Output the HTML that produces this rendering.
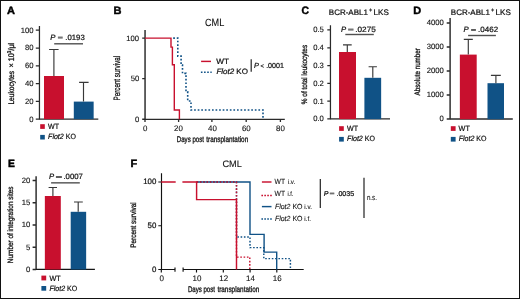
<!DOCTYPE html>
<html><head><meta charset="utf-8"><style>
html,body{margin:0;padding:0;background:#fff;}
body{width:520px;height:299px;overflow:hidden;}
svg{display:block;will-change:transform;text-rendering:geometricPrecision;font-family:"Liberation Sans",sans-serif;}
text{fill:#111;stroke:#111;stroke-width:0.22px;}
.cd{stroke-width:0.3px;}
.th{stroke-width:0.1px;}
.tk{stroke-width:0.12px;}
.lt{stroke-width:0.45px;fill:#000;stroke:#000;}
</style></head><body>
<svg width="520" height="299" viewBox="0 0 520 299" xmlns="http://www.w3.org/2000/svg">
<rect x="0.5" y="0.5" width="519" height="298" fill="#fff" stroke="#111" stroke-width="1"/>
<text x="6.9" y="14.3" font-size="10.6" class="lt" textLength="7.96" lengthAdjust="spacingAndGlyphs" font-weight="bold">A</text>
<path d="M39.45,26.0V119.8M35.8,30.2H39.45M35.8,48.0H39.45M35.8,65.8H39.45M35.8,83.6H39.45M35.8,101.4H39.45M35.8,119.2H39.45" stroke="#2a2a2a" stroke-width="1.25" fill="none"/>
<path d="M39.45,119.2H98.3" stroke="#2a2a2a" stroke-width="1.3" fill="none"/>
<text x="33.6" y="32.6" font-size="7.7" class="tk" text-anchor="end">100</text>
<text x="33.6" y="50.4" font-size="7.7" class="tk" text-anchor="end">80</text>
<text x="33.6" y="68.2" font-size="7.7" class="tk" text-anchor="end">60</text>
<text x="33.6" y="86.0" font-size="7.7" class="tk" text-anchor="end">40</text>
<text x="33.6" y="103.80000000000001" font-size="7.7" class="tk" text-anchor="end">20</text>
<text x="33.6" y="121.60000000000001" font-size="7.7" class="tk" text-anchor="end">0</text>
<text transform="translate(14.1,104.6) rotate(-90)" font-size="8.2" class="cd" textLength="33.6" lengthAdjust="spacingAndGlyphs">Leukocytes</text>
<text transform="translate(14.1,67.6) rotate(-90)" font-size="8.2" class="cd" textLength="24.8" lengthAdjust="spacingAndGlyphs">× 10<tspan font-size="5.4" dy="-2.8">3</tspan><tspan dy="2.8">/μl</tspan></text>
<rect x="44" y="76" width="20" height="43.1" fill="#c8102e"/>
<rect x="73.8" y="101.6" width="19.85" height="17.5" fill="#105286"/>
<path d="M53.9,76V49.5M49.1,49.5H58.6M83.5,101.6V82.4M79.1,82.4H88.6" stroke="#383838" stroke-width="1.15" fill="none"/>
<path d="M54.2,43.8H83" stroke="#505050" stroke-width="1.4" fill="none"/>
<text x="50.369" y="39.9" font-size="7.7"><tspan font-style="italic">P</tspan></text>
<rect x="57.9" y="36.70" width="4.80" height="0.73" fill="#222"/>
<rect x="57.9" y="37.67" width="4.80" height="0.73" fill="#222"/>
<text x="65.307" y="39.9" font-size="7.7" textLength="19.501" lengthAdjust="spacingAndGlyphs">.0193</text>
<rect x="40.2" y="124.2" width="4.6" height="4.7" fill="#c8102e"/>
<rect x="40.2" y="134.9" width="4.6" height="4.6" fill="#105286"/>
<text x="48.1" y="129.1" font-size="7.6" textLength="11.0" lengthAdjust="spacingAndGlyphs">WT</text>
<text x="48.1" y="139.3" font-size="7.6" textLength="27.8" lengthAdjust="spacingAndGlyphs"><tspan font-style="italic">Flot2</tspan> KO</text>
<text x="113.4" y="14.4" font-size="10.6" class="lt" textLength="7.96" lengthAdjust="spacingAndGlyphs" font-weight="bold">B</text>
<path d="M145.05,30.1V119.8M142.2,38.1H145.05M142.2,78.6H145.05M142.2,119.2H145.05" stroke="#2a2a2a" stroke-width="1.45" fill="none"/>
<path d="M145.05,119.3H284.8M145.0,119.3V121.9M178.6,119.3V121.9M211.9,119.3V121.9M246.2,119.3V121.9M280.4,119.3V121.9" stroke="#2a2a2a" stroke-width="1.3" fill="none"/>
<text x="139.1" y="40.5" font-size="7.7" class="tk" text-anchor="end">100</text>
<text x="139.4" y="81.0" font-size="7.7" class="tk" text-anchor="end">50</text>
<text x="139.4" y="121.5" font-size="7.7" class="tk" text-anchor="end">0</text>
<text x="145.1" y="130.8" font-size="7.9" class="tk" text-anchor="middle">0</text>
<text x="178.4" y="130.8" font-size="7.9" class="tk" text-anchor="middle">20</text>
<text x="212.5" y="130.8" font-size="7.9" class="tk" text-anchor="middle">40</text>
<text x="246.3" y="130.8" font-size="7.9" class="tk" text-anchor="middle">60</text>
<text x="280.5" y="130.8" font-size="7.9" class="tk" text-anchor="middle">80</text>
<text x="176.8" y="141.9" font-size="8.2" class="cd" textLength="27.1" lengthAdjust="spacingAndGlyphs">Days post</text>
<text x="206.3" y="141.9" font-size="8.2" class="cd" textLength="41.9" lengthAdjust="spacingAndGlyphs">transplantation</text>
<text transform="translate(119.9,78.2) rotate(-90)" font-size="9.2" text-anchor="middle" class="cd" textLength="44.6" lengthAdjust="spacingAndGlyphs">Percent survival</text>
<text x="205.0" y="25.75" font-size="10.4" class="th" textLength="19.3" lengthAdjust="spacingAndGlyphs">CML</text>
<path d="M173.2,38.1H177.8V56.1H181.1V65.1H182.5V73.4H186V91.8H187.7V101H191V110H263V119.2" stroke="#105286" stroke-width="1.6" fill="none" stroke-dasharray="1.7 1.87"/>
<path d="M145,38.1H171V47.1H172.4V64.7H174.3V110H179.4V119.2" stroke="#c8102e" stroke-width="1.4" fill="none"/>
<path d="M201.1,61.4H211" stroke="#c8102e" stroke-width="1.45" fill="none"/>
<path d="M200.9,72.2H211.7" stroke="#105286" stroke-width="1.6" fill="none" stroke-dasharray="1.6 1.55"/>
<text x="216.3" y="63.7" font-size="7.8" textLength="12.7" lengthAdjust="spacingAndGlyphs">WT</text>
<text x="216.4" y="74.0" font-size="7.8" textLength="31.5" lengthAdjust="spacingAndGlyphs"><tspan font-style="italic">Flot2</tspan> KO</text>
<path d="M251.2,59.2V71.8" stroke="#222" stroke-width="1.2" fill="none"/>
<text x="253.981" y="67.9" font-size="7.3"><tspan font-style="italic">P</tspan></text>
<text x="260.53499999999997" y="67.9" font-size="6.205" textLength="3.4300000000000455" lengthAdjust="spacingAndGlyphs">&lt;</text>
<text x="266.14300000000003" y="67.9" font-size="7.3" textLength="17.749000000000013" lengthAdjust="spacingAndGlyphs">.0001</text>
<text x="301.6" y="14.3" font-size="10.8" class="lt" textLength="7.5" lengthAdjust="spacingAndGlyphs" font-weight="bold">C</text>
<text x="328.8" y="14.8" font-size="8.0">BCR-ABL1</text>
<text x="368.9" y="11.5" font-size="6.0" textLength="3.3" lengthAdjust="spacingAndGlyphs">+</text>
<text x="373.6" y="14.8" font-size="8.1">LKS</text>
<path d="M330.45,25.3V119.6M327.3,29.95H330.45M327.3,47.75H330.45M327.3,65.55H330.45M327.3,83.35H330.45M327.3,101.15H330.45M327.3,118.95H330.45" stroke="#2a2a2a" stroke-width="1.25" fill="none"/>
<path d="M330.45,118.95H390" stroke="#2a2a2a" stroke-width="1.3" fill="none"/>
<text x="323.9" y="32.35" font-size="7.7" class="tk" text-anchor="end">0.5</text>
<text x="323.9" y="50.15" font-size="7.7" class="tk" text-anchor="end">0.4</text>
<text x="323.9" y="67.95" font-size="7.7" class="tk" text-anchor="end">0.3</text>
<text x="323.9" y="85.75" font-size="7.7" class="tk" text-anchor="end">0.2</text>
<text x="323.9" y="103.55000000000001" font-size="7.7" class="tk" text-anchor="end">0.1</text>
<text x="323.9" y="121.35000000000001" font-size="7.7" class="tk" text-anchor="end">0.0</text>
<text transform="translate(307.4,74.5) rotate(-90)" font-size="7.9" text-anchor="middle" class="cd" textLength="59.4" lengthAdjust="spacingAndGlyphs">% of total leukocytes</text>
<rect x="339.0" y="52" width="17.0" height="67.1" fill="#c8102e"/>
<rect x="364.4" y="77.8" width="16.75" height="41.3" fill="#105286"/>
<path d="M347.3,52V44.8M343.0,44.8H351.7M372.8,77.8V66.7M368.6,66.7H376.9" stroke="#383838" stroke-width="1.15" fill="none"/>
<path d="M345.3,34.5H373.8" stroke="#505050" stroke-width="1.4" fill="none"/>
<text x="340.969" y="31.9" font-size="7.7"><tspan font-style="italic">P</tspan></text>
<rect x="348.1" y="28.70" width="5.40" height="0.73" fill="#222"/>
<rect x="348.1" y="29.67" width="5.40" height="0.73" fill="#222"/>
<text x="355.307" y="31.9" font-size="7.7" textLength="20.501" lengthAdjust="spacingAndGlyphs">.0275</text>
<rect x="339.1" y="126.2" width="4.7" height="4.7" fill="#c8102e"/>
<rect x="339.1" y="136.9" width="4.7" height="4.7" fill="#105286"/>
<text x="347.1" y="131.0" font-size="7.6" textLength="11.0" lengthAdjust="spacingAndGlyphs">WT</text>
<text x="347.1" y="141.4" font-size="7.6" textLength="27.9" lengthAdjust="spacingAndGlyphs"><tspan font-style="italic">Flot2</tspan> KO</text>
<text x="413.3" y="14.35" font-size="10.6" class="lt" textLength="7.96" lengthAdjust="spacingAndGlyphs" font-weight="bold">D</text>
<text x="450.8" y="14.8" font-size="8.0">BCR-ABL1</text>
<text x="490.9" y="11.5" font-size="6.0" textLength="3.3" lengthAdjust="spacingAndGlyphs">+</text>
<text x="495.6" y="14.8" font-size="8.1">LKS</text>
<path d="M450.1,18V119.6M446.7,23.0H450.1M446.7,47.0H450.1M446.7,71.0H450.1M446.7,95.0H450.1M446.7,119.0H450.1" stroke="#2a2a2a" stroke-width="1.45" fill="none"/>
<path d="M450.1,119.0H512.8" stroke="#2a2a2a" stroke-width="1.3" fill="none"/>
<text x="443.8" y="25.4" font-size="7.7" class="tk" text-anchor="end">4000</text>
<text x="443.8" y="49.4" font-size="7.7" class="tk" text-anchor="end">3000</text>
<text x="443.8" y="73.4" font-size="7.7" class="tk" text-anchor="end">2000</text>
<text x="443.8" y="97.4" font-size="7.7" class="tk" text-anchor="end">1000</text>
<text x="443.8" y="121.4" font-size="7.7" class="tk" text-anchor="end">0</text>
<text transform="translate(420.3,71.8) rotate(-90)" font-size="7.9" text-anchor="middle" class="cd" textLength="47.4" lengthAdjust="spacingAndGlyphs">Absolute number</text>
<rect x="459.85" y="54.6" width="16.85" height="64.6" fill="#c8102e"/>
<rect x="487.5" y="83.2" width="16.5" height="36" fill="#105286"/>
<path d="M468.3,54.6V39.4M463.8,39.4H472.8M495.9,83.2V75.4M490.9,75.4H500.8" stroke="#383838" stroke-width="1.15" fill="none"/>
<path d="M468.1,35.5H495.9" stroke="#505050" stroke-width="1.4" fill="none"/>
<text x="463.569" y="32.2" font-size="7.7"><tspan font-style="italic">P</tspan></text>
<rect x="471.1" y="29.00" width="4.80" height="0.73" fill="#222"/>
<rect x="471.1" y="29.97" width="4.80" height="0.73" fill="#222"/>
<text x="478.107" y="32.2" font-size="7.7" textLength="20.001" lengthAdjust="spacingAndGlyphs">.0462</text>
<rect x="450.8" y="126.2" width="4.8" height="4.7" fill="#c8102e"/>
<rect x="450.8" y="136.9" width="4.8" height="4.7" fill="#105286"/>
<text x="458.6" y="131.0" font-size="7.6" textLength="11.2" lengthAdjust="spacingAndGlyphs">WT</text>
<text x="458.7" y="141.2" font-size="7.6" textLength="27.8" lengthAdjust="spacingAndGlyphs"><tspan font-style="italic">Flot2</tspan> KO</text>
<text x="7.9" y="167.1" font-size="10.6" class="lt" textLength="6.9" lengthAdjust="spacingAndGlyphs" font-weight="bold">E</text>
<path d="M36.1,176.2V270M32.6,180.4H36.1M32.6,202.65H36.1M32.6,224.9H36.1M32.6,247.15H36.1M32.6,269.4H36.1" stroke="#2a2a2a" stroke-width="1.45" fill="none"/>
<path d="M36.1,269.4H94.9" stroke="#151515" stroke-width="1.3" fill="none"/>
<text x="30.4" y="182.8" font-size="7.7" class="tk" text-anchor="end">20</text>
<text x="30.4" y="205.05" font-size="7.7" class="tk" text-anchor="end">15</text>
<text x="30.4" y="227.3" font-size="7.7" class="tk" text-anchor="end">10</text>
<text x="30.4" y="249.55" font-size="7.7" class="tk" text-anchor="end">5</text>
<text x="30.4" y="271.79999999999995" font-size="7.7" class="tk" text-anchor="end">0</text>
<text transform="translate(13.4,224.85) rotate(-90)" font-size="7.9" text-anchor="middle" class="cd" textLength="76.6" lengthAdjust="spacingAndGlyphs">Number of integration sites</text>
<rect x="44.85" y="196.0" width="15.95" height="73.5" fill="#c8102e"/>
<rect x="70.7" y="211.8" width="15.45" height="57.7" fill="#105286"/>
<path d="M52.9,196V187.5M48.6,187.5H57.0M78.2,211.8V202.0M74.0,202.0H82.8" stroke="#383838" stroke-width="1.15" fill="none"/>
<path d="M51.1,182.85H79.8" stroke="#505050" stroke-width="1.4" fill="none"/>
<text x="48.969" y="179.3" font-size="7.7"><tspan font-style="italic">P</tspan></text>
<rect x="55.9" y="176.10" width="6.00" height="0.73" fill="#222"/>
<rect x="55.9" y="177.07" width="6.00" height="0.73" fill="#222"/>
<text x="63.407" y="179.3" font-size="7.7" textLength="19.501" lengthAdjust="spacingAndGlyphs">.0007</text>
<rect x="41.4" y="275.6" width="4.8" height="4.8" fill="#c8102e"/>
<rect x="41.4" y="286" width="4.8" height="4.7" fill="#105286"/>
<text x="49.4" y="280.5" font-size="7.6" textLength="11.2" lengthAdjust="spacingAndGlyphs">WT</text>
<text x="49.4" y="290.6" font-size="7.6" textLength="27.8" lengthAdjust="spacingAndGlyphs"><tspan font-style="italic">Flot2</tspan> KO</text>
<text x="130.6" y="167.1" font-size="10.6" class="lt" textLength="6.73" lengthAdjust="spacingAndGlyphs" font-weight="bold">F</text>
<text x="222.4" y="167.0" font-size="9.4" class="th" textLength="19.4" lengthAdjust="spacingAndGlyphs">CML</text>
<path d="M161.5,173.2V270M158.3,182H161.5M158.3,225.75H161.5M158.3,269.5H161.5M161.5,269.5H175M175,267.4V271.7M183.1,267.4V271.7M183.1,269.5H303.7M161.3,269.5V272.5M196.5,269.5V272.5M223.3,269.5V272.5M250.1,269.5V272.5M276.8,269.5V272.5" stroke="#111" stroke-width="1.15" fill="none"/>
<text x="156.3" y="184.3" font-size="7.9" text-anchor="end">100</text>
<text x="156.3" y="228.1" font-size="7.9" text-anchor="end">50</text>
<text x="156.3" y="271.9" font-size="7.9" text-anchor="end">0</text>
<text x="161.70000000000002" y="280.9" font-size="8.0" class="th" text-anchor="middle">0</text>
<text x="196.9" y="280.9" font-size="8.0" class="th" text-anchor="middle" textLength="8.9" lengthAdjust="spacingAndGlyphs">10</text>
<text x="223.70000000000002" y="280.9" font-size="8.0" class="th" text-anchor="middle" textLength="8.9" lengthAdjust="spacingAndGlyphs">12</text>
<text x="250.5" y="280.9" font-size="8.0" class="th" text-anchor="middle" textLength="8.9" lengthAdjust="spacingAndGlyphs">14</text>
<text x="277.2" y="280.9" font-size="8.0" class="th" text-anchor="middle" textLength="8.9" lengthAdjust="spacingAndGlyphs">16</text>
<text x="187.9" y="291.8" font-size="8.2" class="cd" textLength="27.1" lengthAdjust="spacingAndGlyphs">Days post</text>
<text x="217.4" y="291.8" font-size="8.2" class="cd" textLength="41.9" lengthAdjust="spacingAndGlyphs">transplantation</text>
<text transform="translate(136.4,225.0) rotate(-90)" font-size="8.0" text-anchor="middle" class="cd" textLength="45.6" lengthAdjust="spacingAndGlyphs">Percent survival</text>
<path d="M196.6,182H236.5V237H250V247.6H263.8V258.6H290.4V269.5" stroke="#105286" stroke-width="1.45" fill="none" stroke-dasharray="1.6 1.7"/>
<path d="M196.6,182H250V234.4H264.1V252.1H276.7V269.5" stroke="#105286" stroke-width="1.4" fill="none"/>
<path d="M196.6,182H236.5V257.1H249.8V269.5" stroke="#c8102e" stroke-width="1.45" fill="none" stroke-dasharray="1.6 1.7"/>
<path d="M161.2,182H175.7M182.4,182H196.6V199.6H236.5V269.5" stroke="#c8102e" stroke-width="1.45" fill="none"/>
<path d="M261.9,182H271.5" stroke="#c8102e" stroke-width="1.45" fill="none"/>
<path d="M261.4,195.4H271.8" stroke="#c8102e" stroke-width="1.5" fill="none" stroke-dasharray="1.6 1.33"/>
<path d="M261.9,206.6H271.5" stroke="#105286" stroke-width="1.45" fill="none"/>
<path d="M261.4,219H271.8" stroke="#105286" stroke-width="1.5" fill="none" stroke-dasharray="1.6 1.33"/>
<text x="274.6" y="184.2" font-size="7.4" class="th" textLength="10.5" lengthAdjust="spacingAndGlyphs">WT</text>
<text x="287.8" y="184.2" font-size="6.6" class="th" textLength="7.4" lengthAdjust="spacingAndGlyphs">i.v.</text>
<text x="274.6" y="196.3" font-size="7.4" class="th" textLength="10.5" lengthAdjust="spacingAndGlyphs">WT</text>
<text x="287.4" y="196.3" font-size="6.6" class="th" textLength="6.0" lengthAdjust="spacingAndGlyphs">i.f.</text>
<text x="274.9" y="208.7" font-size="7.4" class="th" textLength="27.6" lengthAdjust="spacingAndGlyphs"><tspan font-style="italic">Flot2</tspan> KO</text>
<text x="304.3" y="208.7" font-size="6.6" class="th" textLength="7.6" lengthAdjust="spacingAndGlyphs">i.v.</text>
<text x="274.9" y="220.8" font-size="7.4" class="th" textLength="27.6" lengthAdjust="spacingAndGlyphs"><tspan font-style="italic">Flot2</tspan> KO</text>
<text x="304.3" y="220.8" font-size="6.6" class="th" textLength="6.6" lengthAdjust="spacingAndGlyphs">i.f.</text>
<path d="M320.3,178.9V208M364.0,177.7V218" stroke="#222" stroke-width="1.2" fill="none"/>
<text x="323.69" y="195.6" font-size="7.0"><tspan font-style="italic">P</tspan></text>
<rect x="329.8" y="192.70" width="4.50" height="0.67" fill="#222"/>
<rect x="329.8" y="193.57" width="4.50" height="0.67" fill="#222"/>
<text x="336.47" y="195.6" font-size="7.0" textLength="17.709999999999955" lengthAdjust="spacingAndGlyphs">.0035</text>
<text x="366.9" y="200.2" font-size="7.6" class="th" textLength="10.1" lengthAdjust="spacingAndGlyphs">n.s.</text>
</svg>
</body></html>
